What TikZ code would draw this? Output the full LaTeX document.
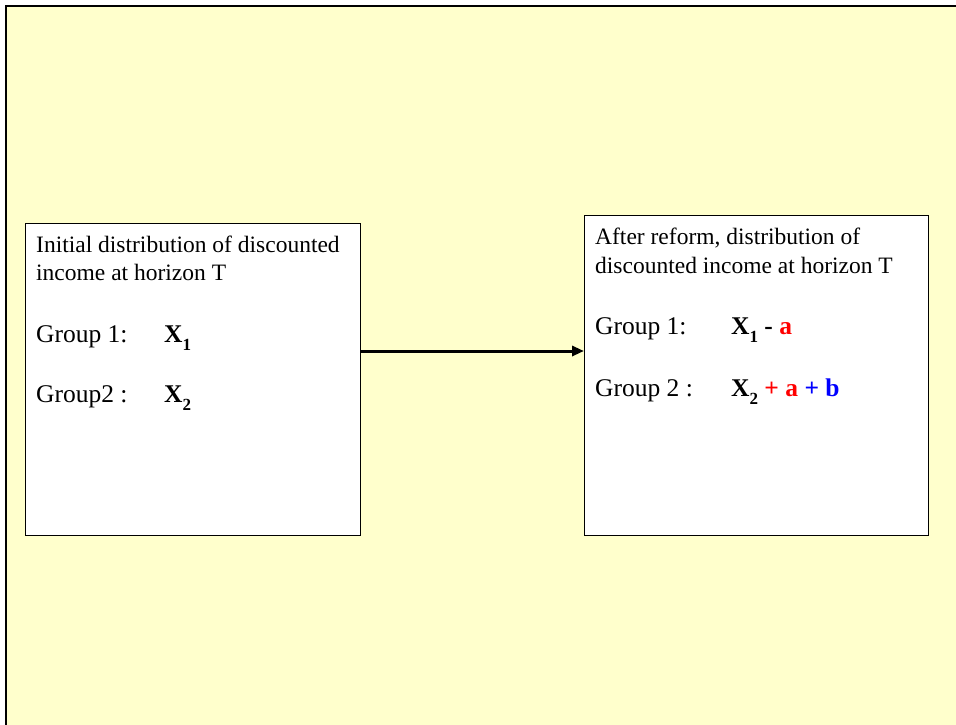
\documentclass[tikz,border=0pt]{standalone}
\usepackage{fontspec}
\setmainfont{Liberation Serif}
\usetikzlibrary{arrows.meta}
\definecolor{bg}{HTML}{FFFFCC}
\definecolor{rd}{HTML}{FF0000}
\definecolor{bl}{HTML}{0000FF}
\newcommand{\sbx}[1]{\textbf{X}\raisebox{-0.32em}{\fontsize{17}{17}\selectfont\bfseries #1}}
\tikzset{
  box/.style={draw=black, line width=1pt, fill=white, anchor=north west, inner sep=0pt},
  head/.style={anchor=base west, inner sep=0pt, font=\fontsize{23.5}{26}\selectfont},
  grp/.style={anchor=base west, inner sep=0pt, font=\fontsize{25.5}{28}\selectfont},
  conn/.style={line width=3pt, -{Triangle[length=12pt,width=10pt]}}
}
\begin{document}
\begin{tikzpicture}[x=1pt,y=-1pt]
\useasboundingbox (0,0) rectangle (956,725);
\fill[white] (0,0) rectangle (956,725);
\fill[bg] (6,6) rectangle (956,725);
\draw[line width=2pt] (6,725) -- (6,6) -- (956,6);
% boxes
\node[box, minimum width=335pt, minimum height=312pt] (L) at (25,223) {};
\node[box, minimum width=344pt, minimum height=320pt] (R) at (584,215) {};
% left texts
\node[head] (l1) at (36,252) {Initial distribution of discounted};
\node[head] (l2) at (36,280) {income at horizon T};
\node[grp] (l3) at (36,342) {Group 1:};
\node[grp] (l4) at (164,342) {\sbx{1}};
\node[grp] (l5) at (36,402) {Group2 :};
\node[grp] (l6) at (164,402) {\sbx{2}};
% right texts
\node[head] (r1) at (595,244) {After reform, distribution of};
\node[head] (r2) at (595,273) {discounted income at horizon T};
\node[grp] (r3) at (595,334) {Group 1:};
\node[grp] (r4) at (731,334) {\sbx{1} \textbf{-} \textcolor{rd}{\textbf{a}}};
\node[grp] (r5) at (595,396) {Group 2 :};
\node[grp] (r6) at (731,396) {\sbx{2} \textcolor{rd}{\textbf{+ a}} \textcolor{bl}{\textbf{+ b}}};
% connector
\coordinate (a) at (0,351);
\draw[conn] (L.east |- a) -- (R.west |- a);
\end{tikzpicture}
\end{document}
